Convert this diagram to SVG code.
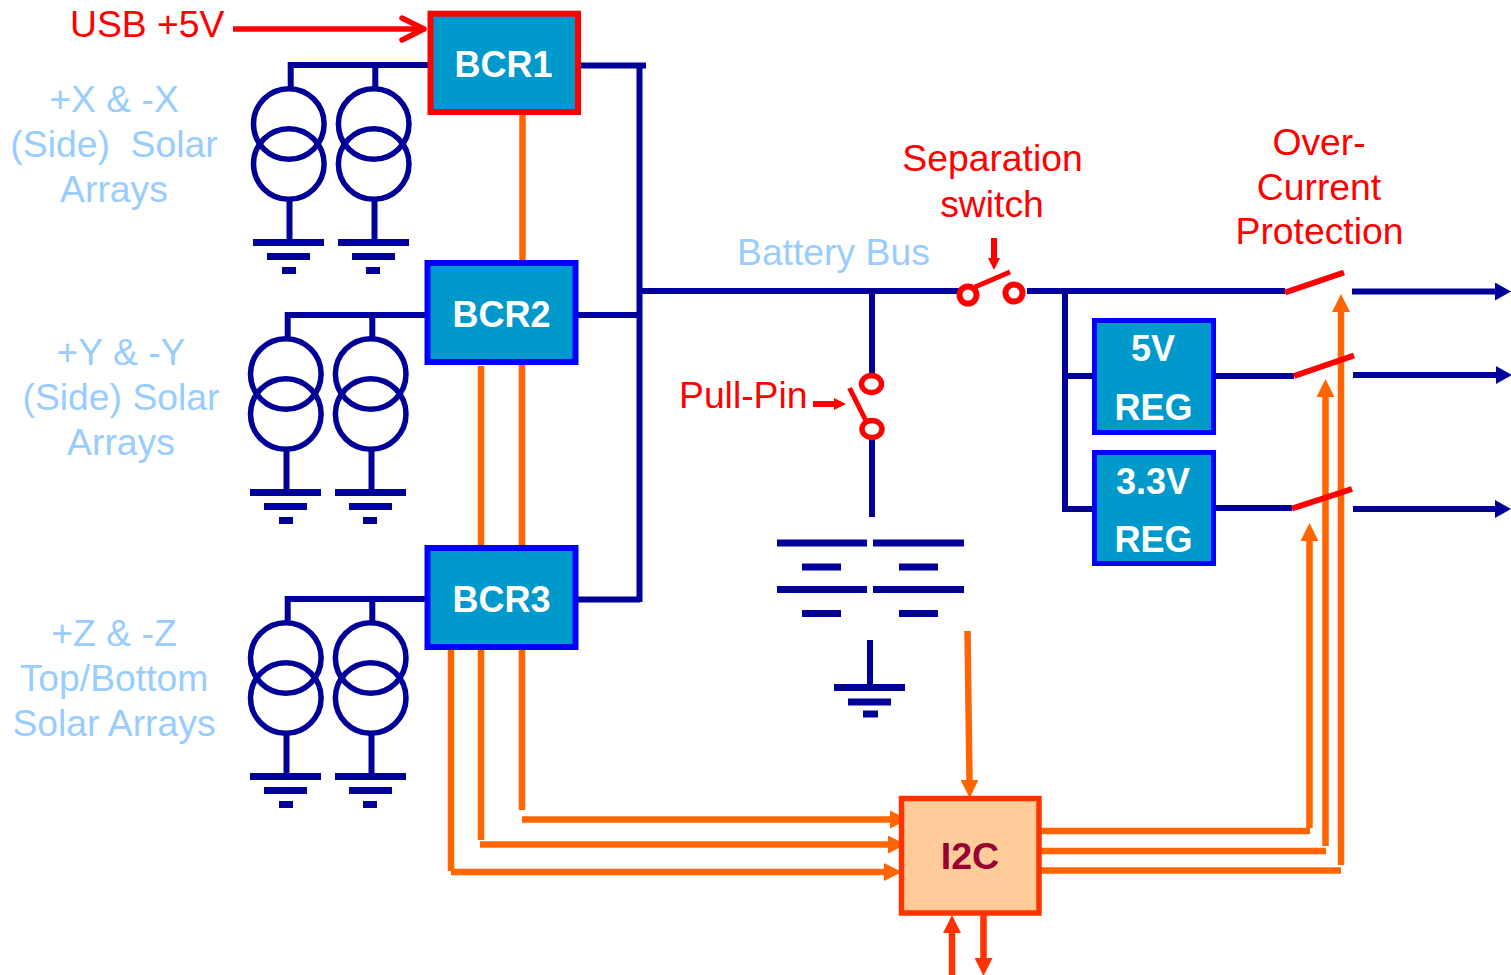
<svg xmlns="http://www.w3.org/2000/svg" width="1511" height="975" viewBox="0 0 1511 975">
<style>
text{font-family:"Liberation Sans",Arial,sans-serif;font-size:37.300px}
.t{text-anchor:middle}
.sol{fill:#99ccff}
.red{fill:#ff0000}
.box{font-weight:bold;fill:#ffffff;font-size:36px;text-anchor:middle}
.w{stroke:#000099;stroke-width:6;fill:none}
.c{stroke:#000099;stroke-width:5.500;fill:none}
.o{stroke:#ff6600;stroke-width:6.500;fill:none}
.o2{stroke:#ff3300;stroke-width:6.500;fill:none}
.r{stroke:#ff0000;fill:none}
.g{stroke:#000099;stroke-width:7;fill:none}
.reg{fill:#0099cc;stroke:#0000ff}
</style>
<defs>
<marker id="ao" markerUnits="userSpaceOnUse" markerWidth="18" markerHeight="18" refX="0" refY="9" orient="auto" viewBox="0 0 18 18"><path d="M0 0L18 9L0 18z" fill="#ff6600"/></marker>
<marker id="ar" markerUnits="userSpaceOnUse" markerWidth="18" markerHeight="18" refX="0" refY="9" orient="auto" viewBox="0 0 18 18"><path d="M0 0L18 9L0 18z" fill="#ff3300"/></marker>
<marker id="ab" markerUnits="userSpaceOnUse" markerWidth="16" markerHeight="18" refX="0" refY="9" orient="auto" viewBox="0 0 16 18"><path d="M0 0L16 9L0 18z" fill="#000099"/></marker>
<marker id="ai" markerUnits="userSpaceOnUse" markerWidth="12" markerHeight="12" refX="0" refY="6" orient="auto" viewBox="0 0 12 12"><path d="M0 0L12 6L0 12z" fill="#ff0000"/></marker>
<g id="solar">
<path class="w" d="M291 65H428M290.700 62V88M375.300 65V88M289.500 200V240M374.500 200V240"/>
<circle class="c" cx="288.800" cy="124" r="35.300"/><circle class="c" cx="288.800" cy="164" r="35.300"/>
<circle class="c" cx="373.700" cy="124" r="35.300"/><circle class="c" cx="373.700" cy="164" r="35.300"/>
<path class="g" d="M253 242.500H324M267 256.500H310M282 270.500H296M338 242.500H409M352 256.500H395M366 270.500H380"/>
</g>
</defs>
<g id="connectors">
<path class="w" d="M578 65.500H646M639.500 65V602M578 315H640M576 599.500H640M640 291H960"/>
<path class="w" d="M872 291V376M872 436V517M1027 291H1285M1065 291V512M1065 376H1095M1065 509H1095M1213 376H1294M1213 508H1292"/>
<path class="w" d="M1352 291.500H1495" marker-end="url(#ab)"/>
<path class="w" d="M1353 375H1496" marker-end="url(#ab)"/>
<path class="w" d="M1353 509H1495" marker-end="url(#ab)"/>
<path class="o" d="M522.500 113V262M522 362V547M481 366V547M522 647V810M481 647V840M451 647V871"/>
<path class="o" d="M522 819.500H890" marker-end="url(#ao)"/>
<path class="o" d="M480 844.500H888" marker-end="url(#ao)"/>
<path class="o" d="M451 872H884" marker-end="url(#ao)"/>
<path class="o" d="M967.500 631L969.500 780" marker-end="url(#ao)"/>
<path class="o" d="M1041 831H1310M1309.500 828V541" marker-end="url(#ao)"/>
<path class="o" d="M1041 851H1326M1325.500 846V397" marker-end="url(#ao)"/>
<path class="o" d="M1041 870.500H1341M1341 865V312" marker-end="url(#ao)"/>
<path class="o2" d="M952 975V933" marker-end="url(#ar)"/>
<path class="o2" d="M983.500 914V958" marker-end="url(#ar)"/>
<path class="r" stroke-width="5.500" d="M233 29H420"/>
<path class="r" stroke-width="5.500" stroke-linecap="round" stroke-linejoin="round" d="M402 18L424 29L402 40"/>
<path class="r" stroke-width="6" d="M994 238V258" marker-end="url(#ai)"/>
<path class="r" stroke-width="6" d="M813 404H834" marker-end="url(#ai)"/>
</g>
<g id="solar-x"><use href="#solar"/></g>
<g id="solar-y"><use href="#solar" x="-3" y="250"/></g>
<g id="solar-z"><use href="#solar" x="-3" y="534"/></g>
<g id="bcr1"><rect x="430.500" y="13.700" width="147.500" height="98.300" fill="#0099cc" stroke="#ff0000" stroke-width="6"/><text class="box" x="503.500" y="77">BCR1</text></g>
<g id="bcr2"><rect class="reg" x="427.500" y="263" width="148" height="99" stroke-width="6"/><text class="box" x="501.500" y="327">BCR2</text></g>
<g id="bcr3"><rect class="reg" x="427.500" y="548" width="148" height="99" stroke-width="6"/><text class="box" x="501.500" y="612">BCR3</text></g>
<g id="reg5"><rect class="reg" x="1094.500" y="320.500" width="119" height="112" stroke-width="5"/><text class="box" x="1153" y="361">5V</text><text class="box" x="1153.500" y="420">REG</text></g>
<g id="reg33"><rect class="reg" x="1094.500" y="452.500" width="119" height="111" stroke-width="5"/><text class="box" x="1153" y="494">3.3V</text><text class="box" x="1153.500" y="552">REG</text></g>
<g id="i2c"><rect x="901.500" y="798.500" width="137.500" height="114.500" fill="#ffcc99" stroke="#ff3300" stroke-width="5.500"/><text class="box" x="970" y="869" style="fill:#990033;font-size:37.500px">I2C</text></g>
<g id="battery"><path class="g" d="M777 543H867M873 543H964M802 567H841M899 567H938M777 589.500H867M873 589.500H964M802 613.500H841M899 613.500H938"/></g>
<g id="ground"><path class="w" d="M870 640V687"/><path class="g" d="M834 687.500H905M848 702H891M863 714H878"/></g>
<g id="sep-switch"><circle class="r" stroke-width="6" cx="968" cy="295" r="8.500"/><circle class="r" stroke-width="6" cx="1014" cy="293" r="8.500"/><path class="r" stroke-width="5" d="M975 287L1010 272"/></g>
<g id="pull-pin"><ellipse class="r" stroke-width="5.500" cx="871.500" cy="384" rx="10" ry="8.500"/><ellipse class="r" stroke-width="5.500" cx="872" cy="429" rx="10" ry="8.500"/><path class="r" stroke-width="5" d="M849.500 388L866 421"/></g>
<g id="ocp"><path class="r" stroke-width="6" d="M1285 292.500L1344 272.500M1294 376L1354 355.500M1292 508.500L1352 489"/></g>
<g id="labels">
<text class="red" x="70" y="37">USB +5V</text>
<text class="sol t" x="114" y="112">+X &amp; -X</text>
<text class="sol t" x="114" y="157" xml:space="preserve">(Side)  Solar</text>
<text class="sol t" x="114" y="202">Arrays</text>
<text class="sol t" x="121" y="365">+Y &amp; -Y</text>
<text class="sol t" x="121" y="410">(Side) Solar</text>
<text class="sol t" x="121" y="455">Arrays</text>
<text class="sol t" x="114" y="646">+Z &amp; -Z</text>
<text class="sol t" x="114" y="691">Top/Bottom</text>
<text class="sol t" x="114" y="736">Solar Arrays</text>
<text class="sol" x="737" y="265">Battery Bus</text>
<text class="red t" x="992.500" y="171">Separation</text>
<text class="red t" x="992" y="217">switch</text>
<text class="red t" x="1319" y="155">Over-</text>
<text class="red t" x="1319" y="200">Current</text>
<text class="red t" x="1319.500" y="244">Protection</text>
<text class="red" x="679" y="408">Pull-Pin</text>
</g>
</svg>
